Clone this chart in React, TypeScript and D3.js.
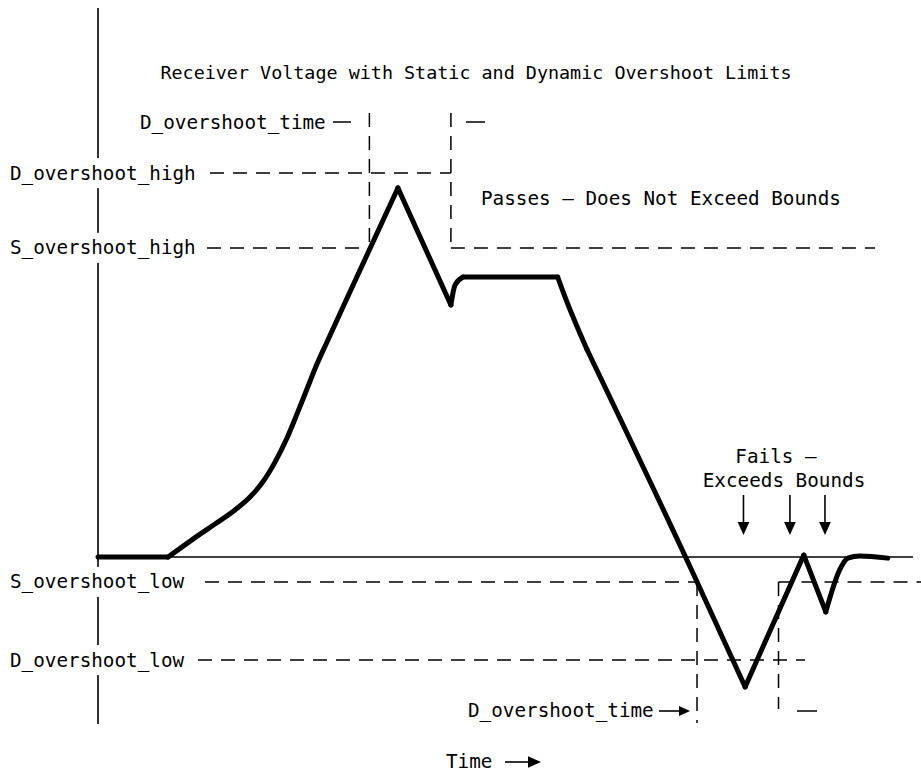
import * as d3 from 'd3';
import React from 'react';

// waveform: time (arbitrary units) and receiver voltage (1 = settled high level)
const waveT = [0, 8.6, 11.66, 14.36, 16.81, 18.65, 20.12, 21.72, 23.19, 24.42, 25.64, 26.87, 28.1, 30.06, 36.8, 43.3, 43.8, 44.8, 56.4, 57.3, 60.0, 73.0, 79.4, 86.6, 89.3, 91.0, 92.0, 93.5, 96.9];
const waveV = [0, 0, 0.064, 0.118, 0.168, 0.214, 0.264, 0.339, 0.425, 0.511, 0.6, 0.689, 0.768, 0.893, 1.318, 0.9, 0.971, 1.0, 1.0, 0.929, 0.741, -0.057, -0.464, 0.007, -0.196, -0.046, -0.004, 0.004, -0.004];
// indices where the trace has a sharp corner; smooth in between
const cornerIdx = [0, 1, 14, 15, 17, 18, 20, 22, 23, 24, 28];

const limitNames = ['D_overshoot_high', 'S_overshoot_high', 'S_overshoot_low', 'D_overshoot_low'];
const limitValues = [1.371, 1.104, -0.089, -0.368];

const windowStarts = [33.3, 73.5]; // dynamic overshoot windows
const dOvershootTime = 10;
const failTimes = [79.2, 84.9, 89.2];

const title = 'Receiver Voltage with Static and Dynamic Overshoot Limits';

const W = 921;
const H = 776;
const FONT = '"DejaVu Sans Mono", monospace';
const FS = 19.3;
const CW = FS * 0.602;
const DASH = '14,9';

const x = d3.scaleLinear().domain([0, 100]).range([98, 913]);
const y = d3.scaleLinear().domain([0, 1]).range([557, 277]);

const Arrow: React.FC<{ x1: number; y1: number; x2: number; y2: number; head?: number }> = ({ x1, y1, x2, y2, head = 11 }) => {
	const a = Math.atan2(y2 - y1, x2 - x1);
	const w = head * 0.45;
	const bx = x2 - head * Math.cos(a);
	const by = y2 - head * Math.sin(a);
	const p = [
		[x2, y2],
		[bx + w * Math.sin(a), by - w * Math.cos(a)],
		[bx - w * Math.sin(a), by + w * Math.cos(a)],
	];
	return (
		<g>
			<line x1={x1} y1={y1} x2={bx} y2={by} stroke="#000" strokeWidth={1.6} />
			<polygon points={p.map(d => d.join(',')).join(' ')} fill="#000" />
		</g>
	);
};

export default function App() {
	const line = d3
		.line<[number, number]>()
		.x(d => x(d[0]))
		.y(d => y(d[1]))
		.curve(d3.curveMonotoneX);

	const pts: [number, number][] = waveT.map((t, i) => [t, waveV[i]]);
	const pieces = d3.pairs(cornerIdx).map(([a, b]) => pts.slice(a, b + 1));

	const [tA, tB] = windowStarts;
	const dHigh = y(limitValues[0]);
	const sHigh = y(limitValues[1]);
	const sLow = y(limitValues[2]);
	const dLow = y(limitValues[3]);

	const dashed: [number, number, number, number][] = [
		// horizontal limits
		[210, dHigh, x(tA + dOvershootTime), dHigh],
		[207, sHigh, x(tA), sHigh],
		[x(tA + dOvershootTime), sHigh, 875, sHigh],
		[205, sLow, x(tB), sLow],
		[x(tB + dOvershootTime), sLow, 921, sLow],
		[198, dLow, 805, dLow],
		// time windows
		[x(tA), 113, x(tA), sHigh],
		[x(tA + dOvershootTime), 113, x(tA + dOvershootTime), sHigh],
		[x(tB), sLow, x(tB), 723],
		[x(tB + dOvershootTime), sLow, x(tB + dOvershootTime), 709],
	];

	const txt = { fontFamily: FONT, fontSize: FS, fill: '#000', dominantBaseline: 'central' as const };

	return (
		<svg width={W} height={H} style={{ position: 'absolute', left: 0, top: 0, background: '#fff' }}>
			<rect width={W} height={H} fill="#fff" />
			{/* axes */}
			<line x1={x(0)} y1={8} x2={x(0)} y2={724} stroke="#000" strokeWidth={1.6} />
			<line x1={x(0)} y1={y(0)} x2={x(100)} y2={y(0)} stroke="#000" strokeWidth={1.5} />

			{dashed.map((d, i) => (
				<line key={i} x1={d[0]} y1={d[1]} x2={d[2]} y2={d[3]} stroke="#000" strokeWidth={1.5} strokeDasharray={DASH} />
			))}

			{/* left limit labels with white backing over the axis */}
			{limitNames.map((n, i) => (
				<g key={n}>
					<rect x={6} y={y(limitValues[i]) - 15} width={n.length * CW + 8} height={30} fill="#fff" />
					<text x={10} y={y(limitValues[i])} {...txt}>{n}</text>
				</g>
			))}

			<text x={476} y={72} textAnchor="middle" {...txt} fontSize={18.4}>{title}</text>

			{/* top D_overshoot_time annotation */}
			<text x={140} y={122} {...txt}>D_overshoot_time</text>
			<line x1={333} y1={122} x2={351} y2={122} stroke="#000" strokeWidth={1.5} />
			<line x1={466} y1={122} x2={485} y2={122} stroke="#000" strokeWidth={1.5} />

			<text x={481} y={198} {...txt}>Passes – Does Not Exceed Bounds</text>

			{/* bottom D_overshoot_time annotation */}
			<text x={468} y={710} {...txt}>D_overshoot_time</text>
			<Arrow x1={659} y1={711} x2={690} y2={711} />
			<line x1={797} y1={711} x2={817} y2={711} stroke="#000" strokeWidth={1.5} />

			<text x={776} y={456} textAnchor="middle" {...txt}>Fails –</text>
			<text x={784} y={480} textAnchor="middle" {...txt}>Exceeds Bounds</text>
			{failTimes.map(t => (
				<Arrow key={t} x1={x(t)} y1={495} x2={x(t)} y2={535} head={13} />
			))}

			<text x={446} y={761} {...txt}>Time</text>
			<Arrow x1={505} y1={762} x2={541} y2={762} head={13} />

			{/* receiver voltage waveform */}
			{pieces.map((p, i) => (
				<path key={i} d={line(p) || ''} fill="none" stroke="#000" strokeWidth={5} strokeLinejoin="round" strokeLinecap="round" />
			))}
		</svg>
	);
}
